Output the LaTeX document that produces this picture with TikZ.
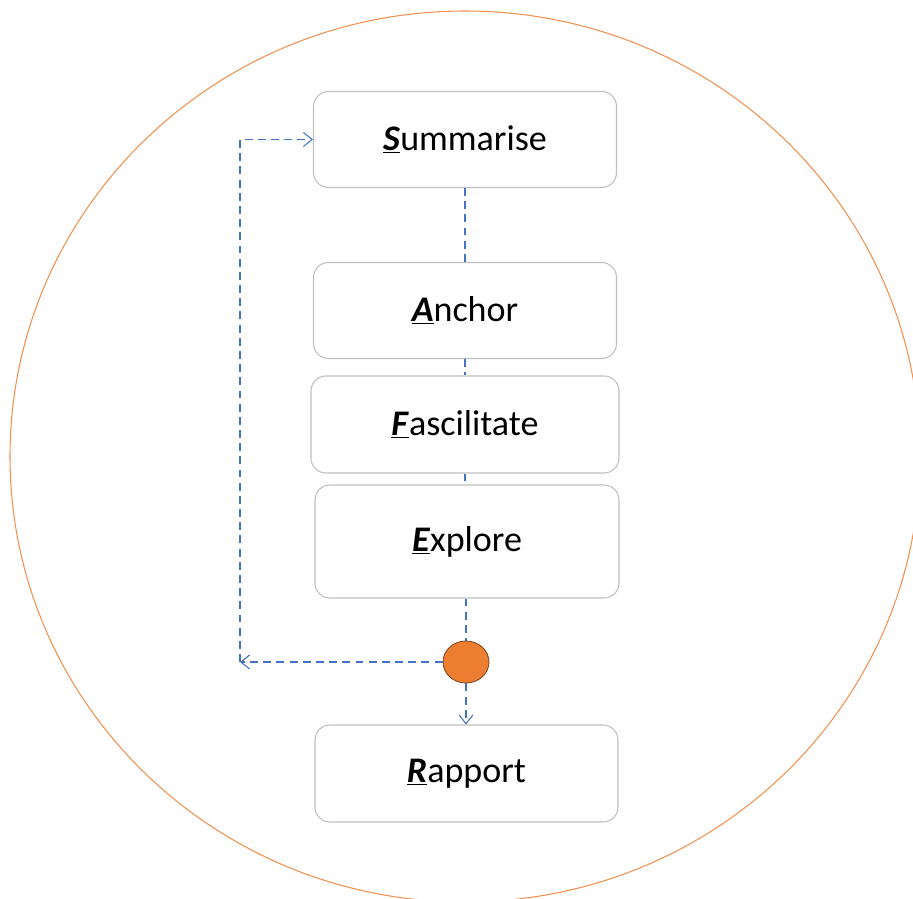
\documentclass[tikz,border=0pt]{standalone}
\usepackage{fontspec}
\setmainfont{Carlito}
\usetikzlibrary{arrows.meta,shapes.geometric}

\definecolor{ringorange}{HTML}{ED7D31}
\definecolor{hubedge}{HTML}{7F4A1E}
\definecolor{flowblue}{HTML}{4472C4}
\definecolor{boxgray}{HTML}{BFBFBF}

\newcommand{\initial}[1]{\underline{\textbf{\textit{#1}}}}

\begin{document}
\begin{tikzpicture}[
    stage/.style={draw=boxgray, line width=0.6pt, rounded corners=0.3cm, fill=white,
                  minimum width=6.06cm, minimum height=1.92cm, inner sep=0pt,
                  font=\fontsize{20.5}{24}\selectfont},
    flow/.style={draw=flowblue, line width=0.6pt, dash pattern=on 4.5pt off 3pt},
    tip/.style={-{Straight Barb[length=5pt,width=8pt]}},
    hubdot/.style={ellipse, draw=hubedge, line width=0.5pt, fill=ringorange,
                   minimum width=0.92cm, minimum height=0.84cm, inner sep=0pt}
  ]

  % Frame:
  \clip (0,0) rectangle (18.26,-17.98);
  \draw[ringorange!85, line width=0.6pt] (9.30,-9.13) ellipse (9.10cm and 8.91cm);

  % Stages:
  \node[stage]                                (summ) at (9.30, -2.79) {\initial{S}ummarise};
  \node[stage]                                (anch) at (9.30, -6.21) {\initial{A}nchor};
  \node[stage, minimum width=6.16cm, minimum height=1.94cm] (fasc) at (9.30, -8.49) {\initial{F}ascilitate};
  \node[stage, minimum width=6.08cm, minimum height=2.26cm] (expl) at (9.34,-10.83) {\initial{E}xplore};
  \node[stage, minimum height=1.94cm]         (rapp) at (9.33,-15.47) {\initial{R}apport};

  % Decision point:
  \node[hubdot] (hub) at (9.32,-13.24) {};
  \coordinate (turn) at (4.80,-13.24);

  % Flow:
  \draw[flow] (summ.south) -- (anch.north);
  \draw[flow] (anch.south) -- (fasc.north);
  \draw[flow] (fasc.south) -- (fasc.south |- expl.north);
  \draw[flow] (hub.north |- expl.south) -- (hub.north);
  \draw[flow, tip] (hub.south) -- (hub.south |- rapp.north);
  \draw[flow, tip] (hub.west) -- (turn);
  \draw[flow, tip] (turn) |- (summ.west);

\end{tikzpicture}
\end{document}
